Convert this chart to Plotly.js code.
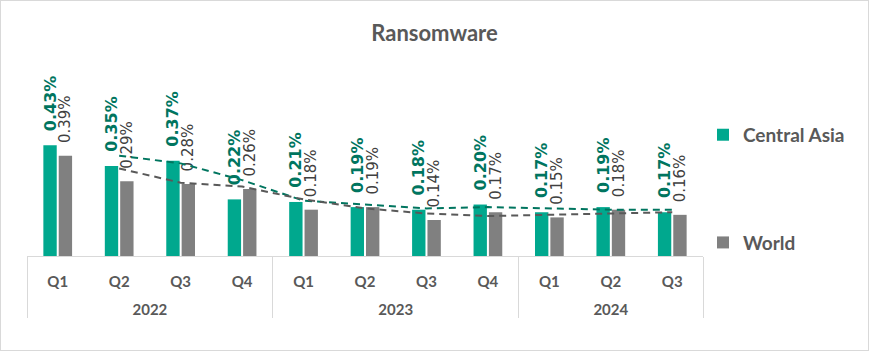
<!DOCTYPE html>
<html>
<head>
<meta charset="utf-8">
<script src="https://cdn.plot.ly/plotly-3.0.1.min.js"></script>
<style>
html,body{margin:0;padding:0;background:#fff;}
#wrap{position:relative;width:869px;height:351px;}
#chart{position:absolute;left:0;top:0;width:869px;height:351px;}
#frame{position:absolute;left:0;top:0;width:869px;height:351px;box-sizing:border-box;border:1px solid #d9d9d9;pointer-events:none;}
</style>
</head>
<body>
<div id="wrap"><div id="chart"></div><div id="frame"></div></div>
<script>
const years = ['2022','2022','2022','2022','2023','2023','2023','2023','2024','2024','2024'];
const quarters = ['Q1','Q2','Q3','Q4','Q1','Q2','Q3','Q4','Q1','Q2','Q3'];
const centralAsia = [0.43, 0.35, 0.37, 0.22, 0.21, 0.19, 0.18, 0.20, 0.17, 0.19, 0.17];
const world = [0.39, 0.29, 0.28, 0.26, 0.18, 0.19, 0.14, 0.17, 0.15, 0.18, 0.16];

// year level labels get an empty first line so they sit lower, as in the reference
const yearCats = years.map(y => '<br>' + y);

const pad = '\u00a0\u00a0';
function labels(arr){ return arr.map(v => pad + v.toFixed(2) + '%'); }
// 2-period moving average trendlines (as in the spreadsheet trendline)
function movAvg(arr){ const o=[]; for(let i=1;i<arr.length;i++) o.push((arr[i-1]+arr[i])/2); return o; }

const traces = [
  {
    type:'bar', name:'Central Asia', legendgroup:'ca',
    x:[yearCats, quarters], y:centralAsia,
    marker:{color:'#00A88E'},
    text:labels(centralAsia), textposition:'outside', textangle:-90,
    constraintext:'none', cliponaxis:false,
    textfont:{family:'DejaVu Sans', size:16, color:'#00755F', weight:'bold'},
    hoverinfo:'skip'
  },
  {
    type:'bar', name:'World', legendgroup:'w',
    x:[yearCats, quarters], y:world,
    marker:{color:'#808080'},
    text:labels(world), textposition:'outside', textangle:-90,
    constraintext:'none', cliponaxis:false,
    textfont:{family:'DejaVu Sans', size:15, color:'#404040'},
    hoverinfo:'skip'
  },
  {
    type:'scatter', mode:'lines', showlegend:false,
    x:[yearCats.slice(1), quarters.slice(1)], y:movAvg(centralAsia),
    line:{color:'#00755F', width:2, dash:'7px,5px'}, hoverinfo:'skip'
  },
  {
    type:'scatter', mode:'lines', showlegend:false,
    x:[yearCats.slice(1), quarters.slice(1)], y:movAvg(world),
    line:{color:'#595959', width:2, dash:'7px,5px'}, hoverinfo:'skip'
  }
];

const layout = {
  width:869, height:351,
  margin:{l:27, r:166, t:63, b:95},
  paper_bgcolor:'#ffffff', plot_bgcolor:'#ffffff',
  font:{family:'Lato', color:'#595959'},
  title:{text:'Ransomware', x:0.5, xref:'container', xanchor:'center', y:1-33/351, yref:'container', yanchor:'middle',
         font:{family:'Lato', size:22, color:'#595959', weight:'bold'}},
  barmode:'group', bargap:0.5, bargroupgap:0.13,
  xaxis:{
    type:'multicategory', showline:true, linecolor:'#d9d9d9', linewidth:1,
    showgrid:false, ticks:'', showdividers:true, dividercolor:'#d9d9d9', dividerwidth:1,
    ticklabelstandoff:12,
    tickfont:{family:'Lato', size:15, color:'#595959', weight:'bold'},
    fixedrange:true
  },
  yaxis:{range:[0,0.75], visible:false, showgrid:false, zeroline:false, fixedrange:true},
  legend:{x:1.0, xanchor:'left', y:0.726, yanchor:'top', traceorder:'grouped', tracegroupgap:80,
          font:{family:'Lato', size:19, color:'#595959', weight:'bold'}, bgcolor:'rgba(0,0,0,0)'},
  showlegend:true
};

Plotly.newPlot('chart', traces, layout, {displayModeBar:false, staticPlot:true});
</script>
</body>
</html>
